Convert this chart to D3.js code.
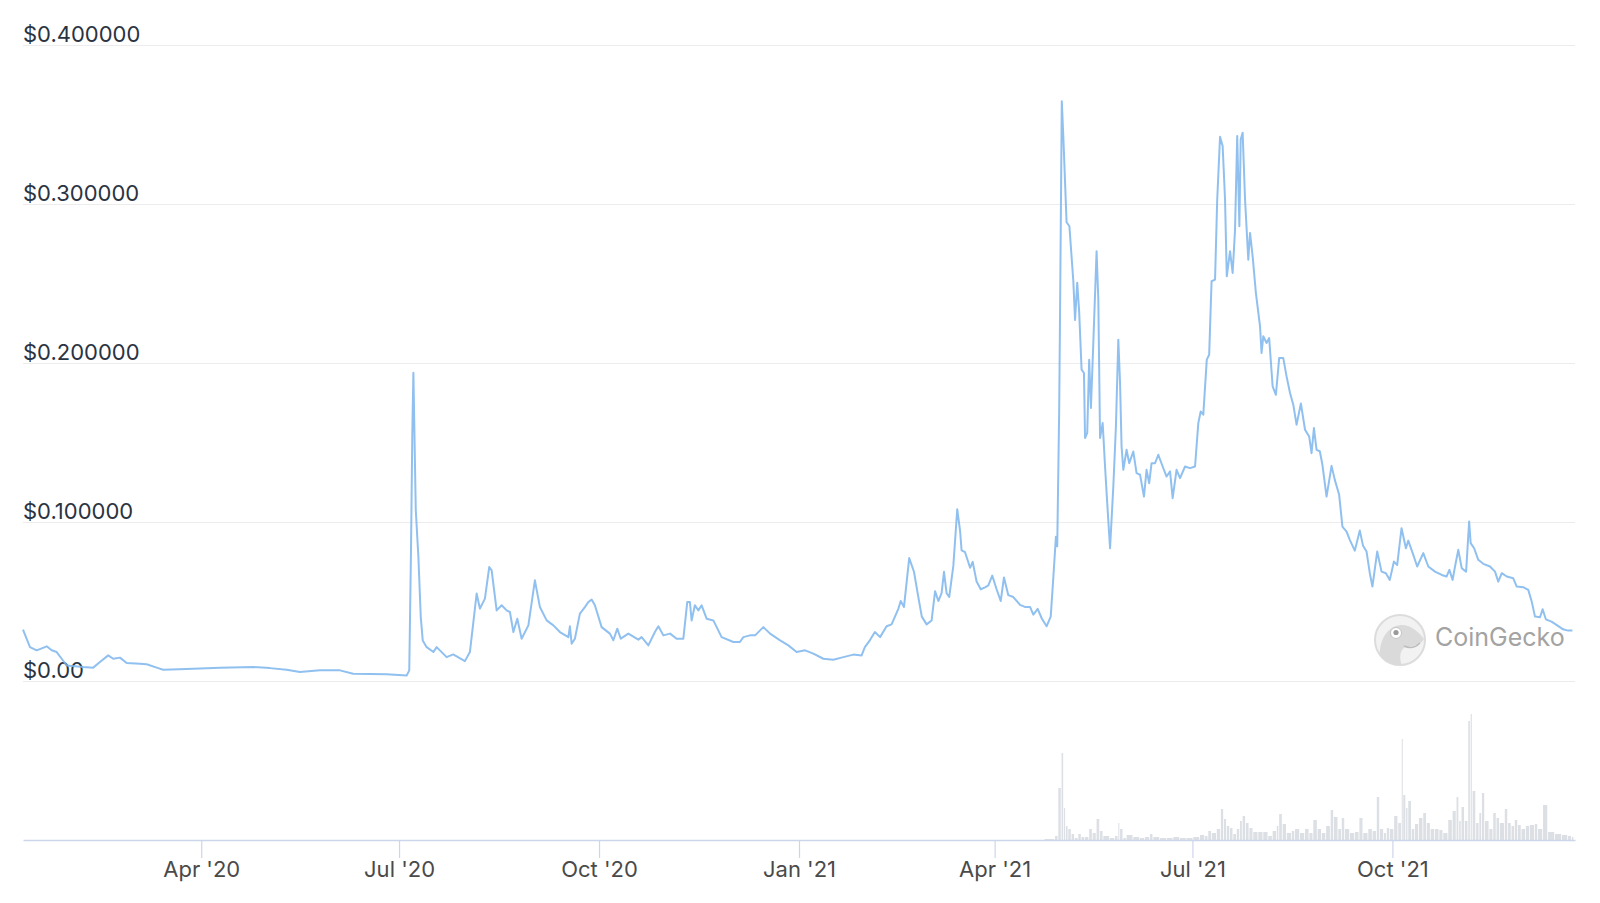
<!DOCTYPE html>
<html>
<head>
<meta charset="utf-8">
<script src="https://cdn.jsdelivr.net/npm/d3@7"></script>
<style>
  body { margin: 0; background: #fff; }
  text { font-family: Inter, "Liberation Sans", Arial, sans-serif; }
</style>
</head>
<body>
<div id="vis"></div>
<script>
// svg properties
var svgWidth = 1600;
var svgHeight = 903;

// first day on the chart, every series below counts days from here
var startDate = Date.UTC(2020, 0, 10);
var endDate = Date.UTC(2021, 11, 24);

// price (USD)
var priceDays = [0, 3.2, 6.3, 10.9, 13.2, 15.5, 17.8, 20.1, 27.7, 32.3, 35.4, 39.2, 41.5, 44.6, 47.7, 53.8, 56.9, 61.5, 64.5, 75.3,
  90.6, 105.9, 113.6, 121.3, 127.4, 136.6, 145.8, 151.9, 167.3, 176.5, 177.7, 178.5, 179.1, 179.6, 180.7, 181.9, 183.0, 183.9, 185.7, 188.8,
  190.3, 194.9, 197.9, 203.3, 205.6, 208.7, 210.2, 212.5, 214.5, 215.6, 217.9, 220.2, 222.5, 224, 225.6, 227.4, 229.4, 232.5, 235.5, 237.8,
  240.9, 244, 247, 250.9, 251.6, 252.4, 253.9, 256.2, 258.5, 260.1, 261.6, 263.1, 266.2, 270, 271.6, 273.4, 275, 278.5, 283.1, 284.6,
  287.7, 290.7, 292.3, 294.6, 297.7, 300.7, 303.8, 305.6, 306.8, 307.6, 309.1, 310.7, 312.2, 314.5, 317.6, 321.4, 326.8, 329.8, 331.4, 334.5,
  336.8, 340.6, 343.7, 348.3, 352.1, 355.9, 359.8, 363.6, 368.2, 372.8, 377.4, 382, 385.8, 387.3, 389.6, 391.9, 394.3, 397.3, 399.6, 402.7,
  403.8, 405.3, 407.7, 409.9, 411.9, 413.5, 415.7, 418, 419.6, 421.1, 422.6, 423.7, 424.9, 426.1, 428, 429.8, 431.1, 431.8, 433.4, 435.7,
  436.9, 438.7, 440.6, 442.6, 444.1, 445.9, 447.9, 449.8, 451.3, 453.3, 455.6, 458.7, 460.9, 463.3, 464.8, 466.8, 468.7, 470.9, 472.8, 474,
  475.2, 475.8, 476.7, 477.1, 477.9, 478.6, 480.1, 481.4, 483.2, 484, 485, 485.9, 487, 488.1, 488.6, 489.6, 490.5, 491.3, 492.4, 493.9,
  494.7, 495.5, 496.7, 497.8, 498.8, 500.1, 501.6, 502.8, 503.9, 504.7, 505.4, 506.2, 507.7, 508.9, 510.8, 512.3, 513.9, 515.7, 516.9, 518.1,
  519.2, 520.8, 522.3, 524.3, 526.1, 527.7, 528.9, 530.7, 532.3, 534.6, 536.9, 539.2, 540.7, 541.8, 543, 544.6, 545.7, 546.8, 548.4, 549.4,
  550.7, 551.9, 553, 553.8, 555.3, 556.5, 557.6, 558.6, 559.6, 560.2, 561.1, 562.2, 563.7, 564.5, 565.7, 567.2, 569.1, 569.8, 570.6, 572.1,
  573.3, 574.9, 576.4, 577.9, 579.8, 581.3, 582.9, 584.4, 585.9, 587.9, 589.8, 591.7, 592.8, 593.9, 595.1, 596.6, 597.8, 599.7, 602, 603.5,
  605.5, 607, 608.9, 610.4, 612.7, 615, 616.5, 618.1, 619.6, 620.8, 623, 625, 627, 628.8, 630.7, 632.2, 634.2, 636.2, 637.3, 639.6,
  641.4, 644.2, 646.5, 649.6, 652.7, 654.9, 656.2, 657.7, 658.8, 660.3, 661.9, 663.9, 665.3, 666, 667.6, 669.5, 671.8, 674.9, 677.2, 678.7,
  680.3, 682.6, 685.6, 687.2, 690.2, 692.5, 694.1, 695.6, 697.9, 699.1, 700.6, 703.2, 705.5, 708.5, 710.8, 712.8];
var priceValues = [0.0323, 0.0213, 0.0193, 0.0218, 0.0193, 0.0182, 0.014, 0.0098, 0.0088, 0.0084, 0.0119, 0.0161, 0.014, 0.0147, 0.0113, 0.0109, 0.0105, 0.0084, 0.0071, 0.0075,
  0.0084, 0.0088, 0.0081, 0.0071, 0.0056, 0.0067, 0.0067, 0.0046, 0.0042, 0.0035, 0.0067, 0.082, 0.1557, 0.1938, 0.1074, 0.078, 0.040, 0.0255, 0.0213, 0.0182,
  0.0213, 0.015, 0.0167, 0.0125, 0.0182, 0.055, 0.0455, 0.0518, 0.0717, 0.0696, 0.0444, 0.0476, 0.0444, 0.0434, 0.0308, 0.0392, 0.0266, 0.035, 0.0633, 0.0465,
  0.0381, 0.035, 0.0308, 0.0276, 0.0344, 0.0235, 0.0266, 0.0424, 0.0465, 0.0497, 0.0512, 0.0476, 0.0339, 0.0298, 0.0256, 0.0329, 0.0266, 0.0298, 0.026, 0.0276,
  0.0224, 0.0308, 0.0344, 0.0287, 0.0298, 0.0266, 0.0266, 0.0497, 0.0497, 0.0381, 0.0476, 0.0444, 0.0476, 0.0392, 0.0381, 0.0276, 0.0245, 0.0245, 0.0276, 0.0287,
  0.0287, 0.0339, 0.0298, 0.0256, 0.0224, 0.0182, 0.0193, 0.0172, 0.014, 0.0134, 0.015, 0.0166, 0.0161, 0.0213, 0.0256, 0.0308, 0.0276, 0.0344, 0.0356, 0.0454,
  0.0503, 0.0466, 0.0773, 0.0687, 0.0528, 0.0405, 0.0356, 0.038, 0.0565, 0.0503, 0.0552, 0.0687, 0.0552, 0.0528, 0.0724, 0.108, 0.0945, 0.0822, 0.081, 0.0712,
  0.0749, 0.0626, 0.0577, 0.0589, 0.0601, 0.0663, 0.0577, 0.0503, 0.0651, 0.054, 0.0528, 0.0479, 0.0466, 0.0466, 0.0417, 0.0454, 0.0393, 0.0344, 0.0405, 0.0651,
  0.0908, 0.0847, 0.1706, 0.232, 0.3646, 0.3425, 0.2885, 0.286, 0.2516, 0.2271, 0.2504, 0.232, 0.1958, 0.1937, 0.1528, 0.156, 0.2021, 0.1717, 0.2126, 0.2703,
  0.2398, 0.1528, 0.1622, 0.1349, 0.1119, 0.0835, 0.1223, 0.1601, 0.2147, 0.1874, 0.1475, 0.1328, 0.1454, 0.137, 0.1443, 0.1307, 0.1297, 0.116, 0.1328, 0.1244,
  0.137, 0.137, 0.1423, 0.1349, 0.1286, 0.1318, 0.115, 0.1328, 0.1276, 0.1349, 0.1339, 0.1349, 0.1622, 0.1695, 0.1675, 0.2021, 0.2052, 0.2514, 0.2524, 0.3028,
  0.3423, 0.3364, 0.3028, 0.2545, 0.2703, 0.2566, 0.2839, 0.3427, 0.286, 0.3406, 0.3448, 0.3028, 0.265, 0.2818, 0.2671, 0.244, 0.223, 0.2063, 0.2168, 0.2126,
  0.2157, 0.1853, 0.18, 0.2031, 0.2031, 0.1916, 0.1811, 0.1738, 0.1612, 0.1745, 0.158, 0.1538, 0.1433, 0.1591, 0.1454, 0.1445, 0.136, 0.116, 0.1353, 0.1265,
  0.1171, 0.0971, 0.094, 0.0888, 0.082, 0.0946, 0.085, 0.0814, 0.0678, 0.0594, 0.0814, 0.0688, 0.0678, 0.0636, 0.0751, 0.073, 0.0961, 0.0835, 0.0883, 0.0793,
  0.072, 0.0804, 0.072, 0.0688, 0.0667, 0.0657, 0.0699, 0.0636, 0.072, 0.0825, 0.0709, 0.0688, 0.1003, 0.0867, 0.0835, 0.0762, 0.0737, 0.072, 0.0688, 0.0625,
  0.0678, 0.0657, 0.0646, 0.0594, 0.059, 0.0573, 0.0499, 0.0405, 0.0401, 0.0451, 0.0388, 0.0373, 0.0353, 0.0325, 0.0317, 0.0317];

// trading volume (relative units, only the shape is readable), same day offsets
var volumeDays = [470, 474.8, 476.3, 477.8, 478.9, 479.8, 480.9, 482.4, 483.9, 485.5, 487, 488.6, 490.5, 492.1, 493.9, 495.5, 497, 500.1, 502.4, 503.9,
  504.7, 506.2, 507.7, 510.8, 513.9, 516.2, 518.5, 520, 523.1, 526.2, 529.2, 532.3, 535.3, 538.4, 541.5, 543.8, 545.3, 546.9, 549.2, 551.1,
  552.5, 553.8, 555.3, 556.8, 558.4, 559.9, 561.1, 562.6, 564.2, 566, 568.3, 570.6, 572.9, 574.9, 576.8, 577.9, 579.5, 581.4, 583.7, 585.2,
  587.5, 589.8, 591.8, 593.6, 595.6, 597.5, 599.5, 601.6, 603.1, 605.1, 606.7, 608.2, 610.5, 612.8, 614.8, 616.6, 618.9, 620.9, 622.8, 624.3,
  626.1, 627.4, 628.9, 630.8, 632.7, 634.3, 635, 636.3, 637.3, 638.9, 640.4, 642.2, 644.2, 645.8, 647.6, 649.6, 651.6, 653.4, 655.7, 657.7,
  659.5, 660.7, 661.8, 663.3, 664.9, 666, 666.9, 668.5, 670, 671.2, 672.6, 674.6, 676.4, 677.9, 679.4, 681.7, 683.2, 684.8, 686.3, 687.8,
  689.4, 691.4, 693.2, 695.5, 697, 699.3, 701.6, 704.8, 708, 710.8, 712.6];
var volumeValues = [1, 4, 52, 87, 32, 14, 11, 6, 2, 6, 3, 3, 11, 7, 21, 9, 4, 2, 4, 17,
  11, 2, 5, 3, 2, 3, 6, 3, 2, 2, 3, 2, 2, 3, 5, 4, 9, 7, 11, 31,
  21, 14, 12, 6, 11, 19, 24, 17, 12, 8, 8, 8, 4, 9, 14, 26, 16, 7, 9, 11,
  7, 11, 7, 20, 11, 7, 14, 30, 23, 11, 22, 11, 7, 8, 22, 7, 11, 9, 43, 11,
  7, 12, 11, 24, 17, 101, 45, 32, 39, 11, 16, 22, 27, 17, 11, 11, 10, 7, 20, 29,
  43, 19, 33, 19, 119, 126, 49, 17, 27, 47, 19, 11, 27, 22, 17, 31, 17, 14, 20, 15,
  11, 14, 15, 16, 11, 35, 8, 6, 5, 4, 3];

// axis ticks
var xTickDates = [Date.UTC(2020, 3, 1), Date.UTC(2020, 6, 1), Date.UTC(2020, 9, 1), Date.UTC(2021, 0, 1),
  Date.UTC(2021, 3, 1), Date.UTC(2021, 6, 1), Date.UTC(2021, 9, 1)];
var xTickLabels = ["Apr '20", "Jul '20", "Oct '20", "Jan '21", "Apr '21", "Jul '21", "Oct '21"];
var yTickValues = [0.4, 0.3, 0.2, 0.1, 0];
var yTickLabels = ['$0.400000', '$0.300000', '$0.200000', '$0.100000', '$0.00'];

var dayMs = 864e5;
var toDate = function (d) { return new Date(startDate + d * dayMs); };

var svg = d3.select('#vis').append('svg')
  .attr('width', svgWidth)
  .attr('height', svgHeight);

// plot area
var plotLeft = 23, plotRight = 1575;
var priceTop = 45, priceBottom = 681;
var volTop = 680, volBottom = 840;

// scales
var xScale = d3.scaleUtc().domain([startDate, endDate]).range([plotLeft, plotRight]);
var yScale = d3.scaleLinear().domain([0, 0.4]).range([priceBottom, priceTop]);
var volScale = d3.scaleLinear().domain([0, 160]).range([volBottom, volTop]);

// horizontal grid lines + labels sitting on them
var grid = svg.append('g').attr('class', 'grid');
grid.selectAll('line')
  .data(yTickValues)
  .enter().append('line')
  .attr('x1', plotLeft)
  .attr('x2', plotRight)
  .attr('y1', function (d) { return Math.round(yScale(d)) + 0.5; })
  .attr('y2', function (d) { return Math.round(yScale(d)) + 0.5; })
  .attr('stroke', '#ececec')
  .attr('stroke-width', 1);

grid.selectAll('text')
  .data(yTickValues)
  .enter().append('text')
  .attr('x', plotLeft)
  .attr('y', function (d) { return yScale(d) - 3; })
  .attr('font-size', 22)
  .attr('fill', '#2a3341')
  .text(function (d, i) { return yTickLabels[i]; });

// volume bars, each one reaches to the next reading
var volData = volumeDays.map(function (d, i) {
  var next = i < volumeDays.length - 1 ? volumeDays[i + 1] : d + 1;
  return {start: toDate(d), end: toDate(next), v: volumeValues[i]};
});
svg.append('g').selectAll('rect')
  .data(volData)
  .enter().append('rect')
  .attr('x', function (d) { return xScale(d.start); })
  .attr('width', function (d) { return Math.max(1, xScale(d.end) - xScale(d.start) - 0.8); })
  .attr('y', function (d) { return volScale(d.v); })
  .attr('height', function (d) { return volBottom - volScale(d.v); })
  .attr('fill', '#dcdfe4');

// x axis
var xAxis = svg.append('g')
  .attr('transform', 'translate(0,' + volBottom + ')')
  .call(d3.axisBottom(xScale)
    .tickValues(xTickDates.map(function (t) { return new Date(t); }))
    .tickFormat(function (d, i) { return xTickLabels[i]; })
    .tickSize(18)
    .tickSizeOuter(0));
xAxis.select('.domain').attr('stroke', '#ccd6eb').attr('stroke-width', 1.5);
xAxis.selectAll('.tick line').attr('stroke', '#ccd6eb').attr('stroke-width', 1.2);
xAxis.selectAll('.tick text')
  .attr('font-size', 22)
  .attr('font-family', 'Inter, "Liberation Sans", Arial, sans-serif')
  .attr('fill', '#4a4a4a');

// coingecko watermark
var logo = svg.append('g').attr('class', 'logo');
logo.append('clipPath').attr('id', 'logoClip')
  .append('circle').attr('cx', 1400).attr('cy', 640).attr('r', 25);
logo.append('circle')
  .attr('cx', 1400).attr('cy', 640).attr('r', 25)
  .attr('fill', '#f2f2f2')
  .attr('stroke', '#dcdcdc')
  .attr('stroke-width', 2);
var head = logo.append('g').attr('clip-path', 'url(#logoClip)');
head.append('path')
  .attr('d', 'M1381,668 C1377,652 1381,631 1396,626 C1408,622 1419,632 1424,639 C1421,645 1412,647 1405,647 C1399,651 1399,660 1403,668 Z')
  .attr('fill', '#dadada');
head.append('path')
  .attr('d', 'M1404,646 Q1413,650 1420,643')
  .attr('fill', 'none')
  .attr('stroke', '#bdbdbd')
  .attr('stroke-width', 1.5);
head.append('circle').attr('cx', 1396).attr('cy', 633).attr('r', 5.5)
  .attr('fill', '#fff').attr('stroke', '#c4c4c4').attr('stroke-width', 1);
head.append('circle').attr('cx', 1396).attr('cy', 632.5).attr('r', 2.6).attr('fill', '#9a9a9a');
logo.append('text')
  .attr('x', 1435)
  .attr('y', 646)
  .attr('font-size', 25)
  .attr('fill', '#a3a3a3')
  .text('CoinGecko');

// price line
var priceData = priceDays.map(function (d, i) { return {date: toDate(d), v: priceValues[i]}; });
var makeLine = d3.line()
  .x(function (d) { return xScale(d.date); })
  .y(function (d) { return yScale(d.v); });

svg.append('path')
  .datum(priceData)
  .attr('d', makeLine)
  .attr('fill', 'none')
  .attr('stroke', '#7cb5ec')
  .attr('stroke-width', 2)
  .attr('stroke-opacity', 0.85)
  .attr('stroke-linejoin', 'round');
</script>
</body>
</html>
